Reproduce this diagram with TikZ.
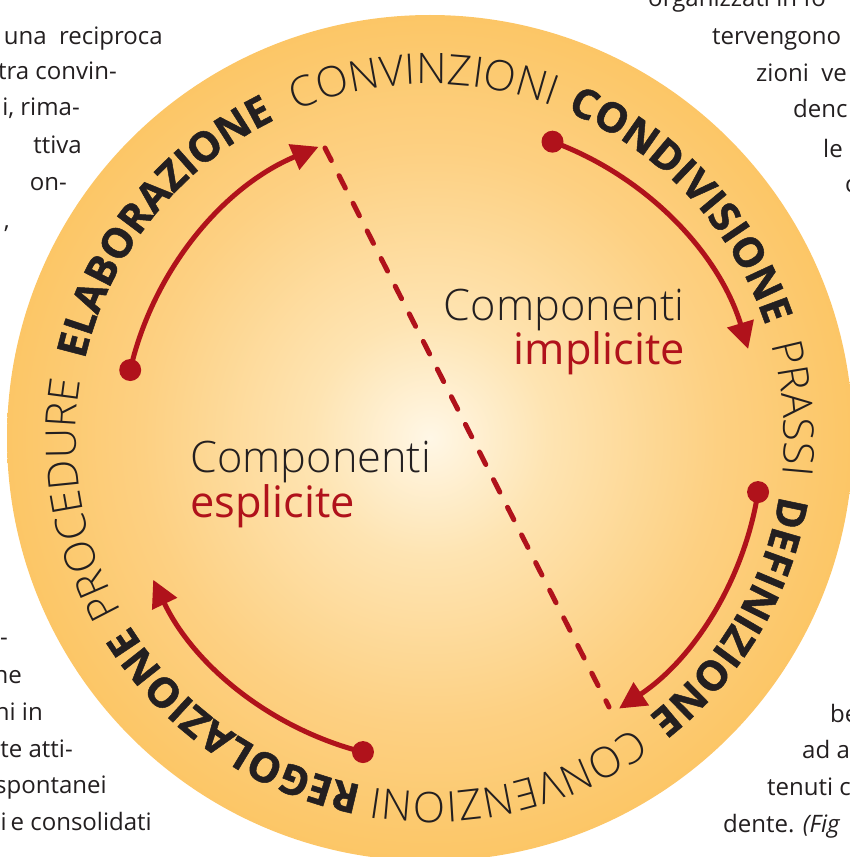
\documentclass[tikz,border=0pt]{standalone}
\usepackage{fontspec}
\setmainfont{Open Sans}
\newfontfamily\lightfont{Open Sans Light}
\newfontface\heavyfont{Open Sans Bold}[FakeBold=1.2]
\usetikzlibrary{arrows.meta,decorations.text}
\definecolor{ringred}{RGB}{176,18,27}
\definecolor{inkgray}{RGB}{35,31,32}
\definecolor{glowin}{RGB}{255,247,230}
\definecolor{glowa}{RGB}{254,228,178}
\definecolor{glowb}{RGB}{253,208,130}
\definecolor{glowc}{RGB}{251,192,85}
\definecolor{glowd}{RGB}{249,182,62}
\definecolor{glowout}{RGB}{247,177,50}
\pgfdeclareradialshading{glow}{\pgfpoint{0bp}{0bp}}{color(0bp)=(glowin); color(7bp)=(glowa); color(17bp)=(glowb); color(30bp)=(glowc); color(42bp)=(glowd); color(50bp)=(glowout)}
\newcommand\ringbold{\fontsize{35}{35}\selectfont\heavyfont}
\newcommand\ringlight{\fontsize{36}{36}\selectfont\lightfont}
\newcommand\bodyfont{\fontsize{20.5}{25}\selectfont}
\newcommand\midfont{\fontsize{37}{40}\selectfont}

\begin{document}
\begin{tikzpicture}[x=0.3mm,y=0.3mm,
  word/.style={decorate,decoration={text along path,text align=center,text color=inkgray}},
  dot/.style={circle,fill=ringred,minimum size=6.6mm,inner sep=0pt},
  flow/.style={ringred,line width=1.5mm,-{Triangle[length=8mm,width=8mm]}},
  body/.style={text=inkgray,font=\bodyfont,inner sep=0pt}]
\useasboundingbox (0,0) rectangle (849,-857);
% disc
\shade[shading=glow] (430,-438) circle (423);
% words round the ring
\begin{scope}[shift={(430,-438)}]
\path[word,decoration={text={|\ringbold|ELABORAZIONE}}] (181.6:354) arc[start angle=181.6,end angle=101.6,radius=354];
\path[word,decoration={text={|\ringlight|CONVINZIONI}}] (131:354) arc[start angle=131,end angle=51,radius=354];
\path[word,decoration={text={|\ringbold|CONDIVISIONE}}] (82.9:354) arc[start angle=82.9,end angle=2.9,radius=354];
\path[word,decoration={text={|\ringlight|PRASSI}}] (44.7:354) arc[start angle=44.7,end angle=-35.3,radius=354];
\path[word,decoration={text={|\ringbold|DEFINIZIONE}}] (9.4:354) arc[start angle=9.4,end angle=-70.6,radius=354];
\path[word,decoration={text={|\ringlight|CONVENZIONI}}] (-37:354) arc[start angle=-37,end angle=-117,radius=354];
\path[word,decoration={text={|\ringbold|REGOLAZIONE}}] (-84.6:354) arc[start angle=-84.6,end angle=-164.6,radius=354];
\path[word,decoration={text={|\ringlight|PROCEDURE}}] (-130:354) arc[start angle=-130,end angle=-210,radius=354];
\end{scope}
% cycle arrows
\begin{scope}[shift={(442,-442)}]
\node[dot] (e1) at (167:320) {};
\coordinate (f1) at (112.7:320);
\draw[flow] (e1.center) arc[start angle=167,end angle=112.7,radius=320];
\node[dot] (e2) at (69.8:320) {};
\coordinate (f2) at (16.9:320);
\draw[flow] (e2.center) arc[start angle=69.8,end angle=16.9,radius=320];
\node[dot] (e3) at (-9:320) {};
\coordinate (f3) at (-56.4:320);
\draw[flow] (e3.center) arc[start angle=-9,end angle=-56.4,radius=320];
\node[dot] (e4) at (-104.3:320) {};
\coordinate (f4) at (-154.5:320);
\draw[flow] (e4.center) arc[start angle=-104.3,end angle=-154.5,radius=320];
\end{scope}
% split line
\coordinate (stop) at (325,-148);
\coordinate (sbot) at (609,-707);
\draw[ringred,line width=1.5mm,line cap=round,dash pattern=on 4.2mm off 5.1mm] (stop) -- (sbot);
% the two halves
\node[anchor=base east,inner sep=0pt,text=inkgray,font=\midfont\lightfont] (compr) at (685,-320) {Componenti};
\node[anchor=base east,inner sep=0pt,text=ringred,font=\midfont] (impl) at (685,-364) {implicite};
\node[anchor=base west,inner sep=0pt,text=inkgray,font=\midfont\lightfont] (compl) at (190,-472) {Componenti};
\node[anchor=base west,inner sep=0pt,text=ringred,font=\midfont] (espl) at (190,-517) {esplicite};
% page text round the figure
\node[body,anchor=base east] (lt1) at (163,-45) {una \ reciproca};
\node[body,anchor=base east] (lt2) at (117,-80) {tra convin-};
\node[body,anchor=base east] (lt3) at (80,-116) {i, rima-};
\node[body,anchor=base east] (lt4) at (82,-153) {ttiva};
\node[body,anchor=base east] (lt5) at (67,-190) {on-};
\node[body,anchor=base east] (lt6) at (10,-228) {,};
\node[body,anchor=base east] (lb1) at (8,-645) {-};
\node[body,anchor=base east] (lb2) at (22,-683) {ne};
\node[body,anchor=base east] (lb3) at (43,-720) {ni in};
\node[body,anchor=base east] (lb4) at (73,-757) {te atti-};
\node[body,anchor=base east] (lb5) at (107,-793) {spontanei};
\node[body,anchor=base east] (lb6) at (152,-830) {si\,e consolidati};
\node[body,anchor=base west] (rt1) at (648,-7) {organizzati in fo};
\node[body,anchor=base west] (rt2) at (712,-45) {tervengono};
\node[body,anchor=base west] (rt3) at (756,-82) {zioni \ ve};
\node[body,anchor=base west] (rt4) at (793,-118) {denc};
\node[body,anchor=base west] (rt5) at (823,-157) {le};
\node[body,anchor=base west] (rt6) at (845,-192) {c};
\node[body,anchor=base west] (rb1) at (830,-722) {be};
\node[body,anchor=base west] (rb2) at (802,-758) {ad a};
\node[body,anchor=base west] (rb3) at (767,-795) {tenuti c};
\node[body,anchor=base west] (rb4) at (723,-832) {dente. \textit{(Fig}};
\end{tikzpicture}
\end{document}
